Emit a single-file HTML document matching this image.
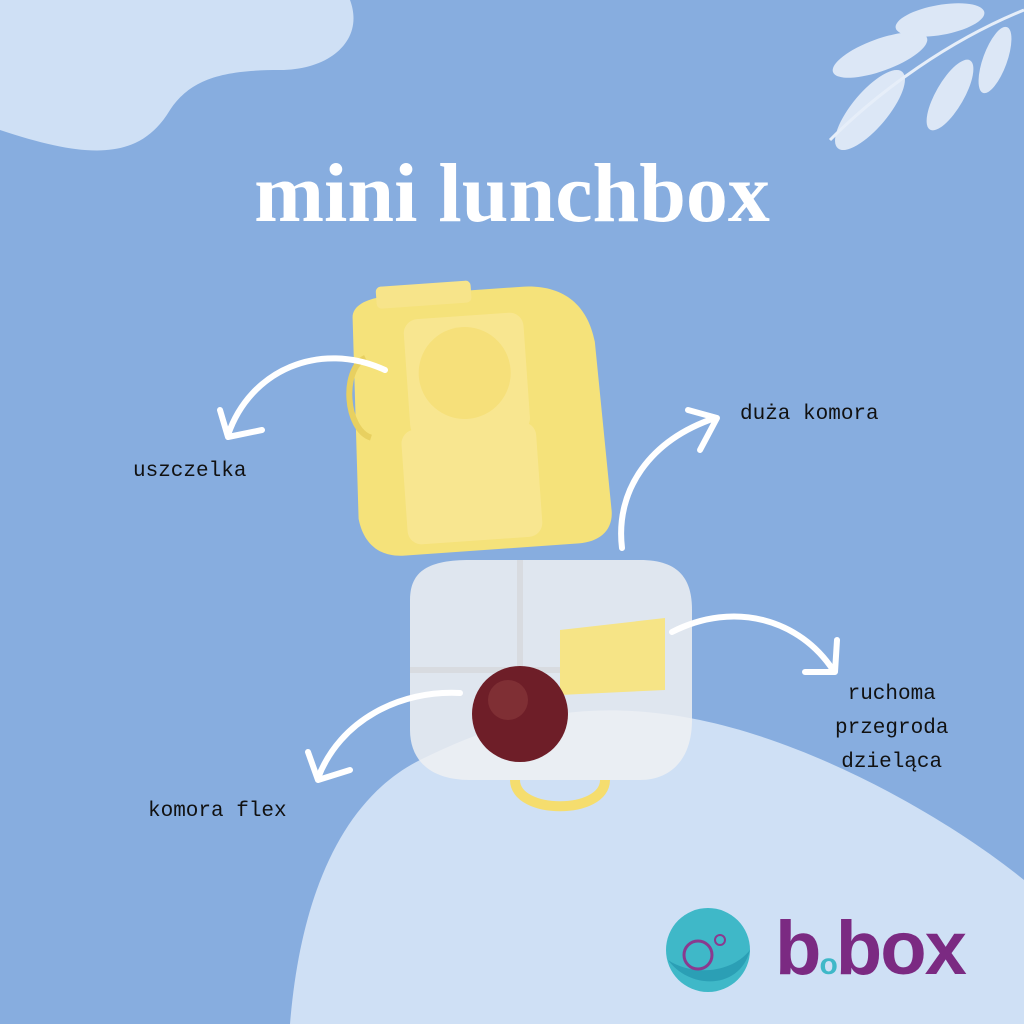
<!DOCTYPE html>
<html><head><meta charset="utf-8"><style>
html,body{margin:0;padding:0}
body{width:1024px;height:1024px;background:#87addf;position:relative;overflow:hidden;font-family:"Liberation Serif",serif}
.t{position:absolute;color:#111;font-family:"Liberation Mono",monospace;font-size:21px}
</style></head><body>
<svg width="1024" height="1024" style="position:absolute;left:0;top:0">
<path d="M0 0 H350 C365 40 330 70 280 70 C220 70 190 80 170 110 C140 160 90 160 0 130 Z" fill="#cfe0f5"/>
<path d="M290 1024 C300 900 340 800 420 760 C520 710 600 700 700 720 C820 745 950 820 1024 880 V1024 Z" fill="#cfe0f5"/>
<g fill="#e6eef9" opacity="0.9">
<ellipse cx="870" cy="110" rx="50" ry="18" transform="rotate(-50 870 110)"/>
<ellipse cx="880" cy="55" rx="50" ry="16" transform="rotate(-20 880 55)"/>
<ellipse cx="940" cy="20" rx="45" ry="15" transform="rotate(-10 940 20)"/>
<ellipse cx="950" cy="95" rx="40" ry="14" transform="rotate(-60 950 95)"/>
<ellipse cx="995" cy="60" rx="35" ry="12" transform="rotate(-70 995 60)"/>
</g>
<path d="M830 140 C880 90 950 40 1024 10" stroke="#e6eef9" stroke-width="3" fill="none"/>
<g transform="rotate(-4 480 420)">
<path d="M360 310 C360 295 380 290 400 290 H530 C570 290 595 310 600 350 L605 520 C605 540 590 550 570 550 H395 C370 550 355 535 352 510 Z" fill="#f5e27a"/>
<rect x="385" y="280" width="95" height="22" rx="5" fill="#f7e48a"/>
<rect x="410" y="315" width="120" height="120" rx="14" fill="#f8e690"/>
<circle cx="468" cy="372" r="46" fill="#f6e07a"/>
<rect x="400" y="425" width="135" height="115" rx="14" fill="#f8e690"/>
<path d="M370 350 C345 360 345 420 370 430" stroke="#e8d060" stroke-width="6" fill="none"/>
</g>
<path d="M410 600 C410 570 430 560 470 560 H640 C680 560 692 580 692 610 V720 C692 760 670 780 640 780 H470 C430 780 410 760 410 730 Z" fill="#eef0f2" opacity="0.85"/>
<path d="M520 560 V670 M410 670 H560" stroke="#d8dbe0" stroke-width="6"/>
<path d="M560 630 L665 618 V690 L560 695 Z" fill="#f6e486"/>
<path d="M515 780 C515 815 605 815 605 780" stroke="#f5dd6e" stroke-width="10" fill="none"/>
<circle cx="520" cy="714" r="48" fill="#6e1e28"/>
<circle cx="508" cy="700" r="20" fill="#8a3a3c" opacity="0.6"/>
<g stroke="#fff" stroke-width="6" fill="none" stroke-linecap="round" stroke-linejoin="round">
<path d="M385 370 C320 340 250 370 228 435"/><path d="M220 410 L228 437 L262 430"/>
<path d="M622 548 C615 490 650 440 715 418"/><path d="M688 410 L717 418 L700 450"/>
<path d="M672 632 C735 600 800 620 833 670"/><path d="M837 640 L835 672 L805 672"/>
<path d="M460 693 C400 690 340 720 318 778"/><path d="M308 752 L318 780 L350 770"/>
</g>
<circle cx="708" cy="950" r="42" fill="#3fb8c8"/>
<path d="M668 960 C690 990 740 990 750 950 C730 975 690 975 668 960Z" fill="#2b9fb5"/>
<circle cx="698" cy="955" r="14" fill="none" stroke="#8a3a8f" stroke-width="3"/>
<circle cx="720" cy="940" r="5" fill="none" stroke="#8a3a8f" stroke-width="2"/>
</svg>
<div style="position:absolute;left:0;width:1024px;top:145px;text-align:center;color:#fff;font-weight:bold;font-size:84px">mini lunchbox</div>
<div class="t" style="left:133px;top:460px">uszczelka</div>
<div class="t" style="left:740px;top:403px">duża komora</div>
<div class="t" style="left:148px;top:800px">komora flex</div>
<div class="t" style="left:835px;top:678px;text-align:center;line-height:34px">ruchoma<br>przegroda<br>dzieląca</div>
<div style="position:absolute;left:775px;top:905px;font-family:'Liberation Sans',sans-serif;font-weight:bold;font-size:76px;color:#7b2a82;letter-spacing:-2px">b<span style="color:#3fb8c8;font-size:30px">o</span>box</div>
</body></html>
